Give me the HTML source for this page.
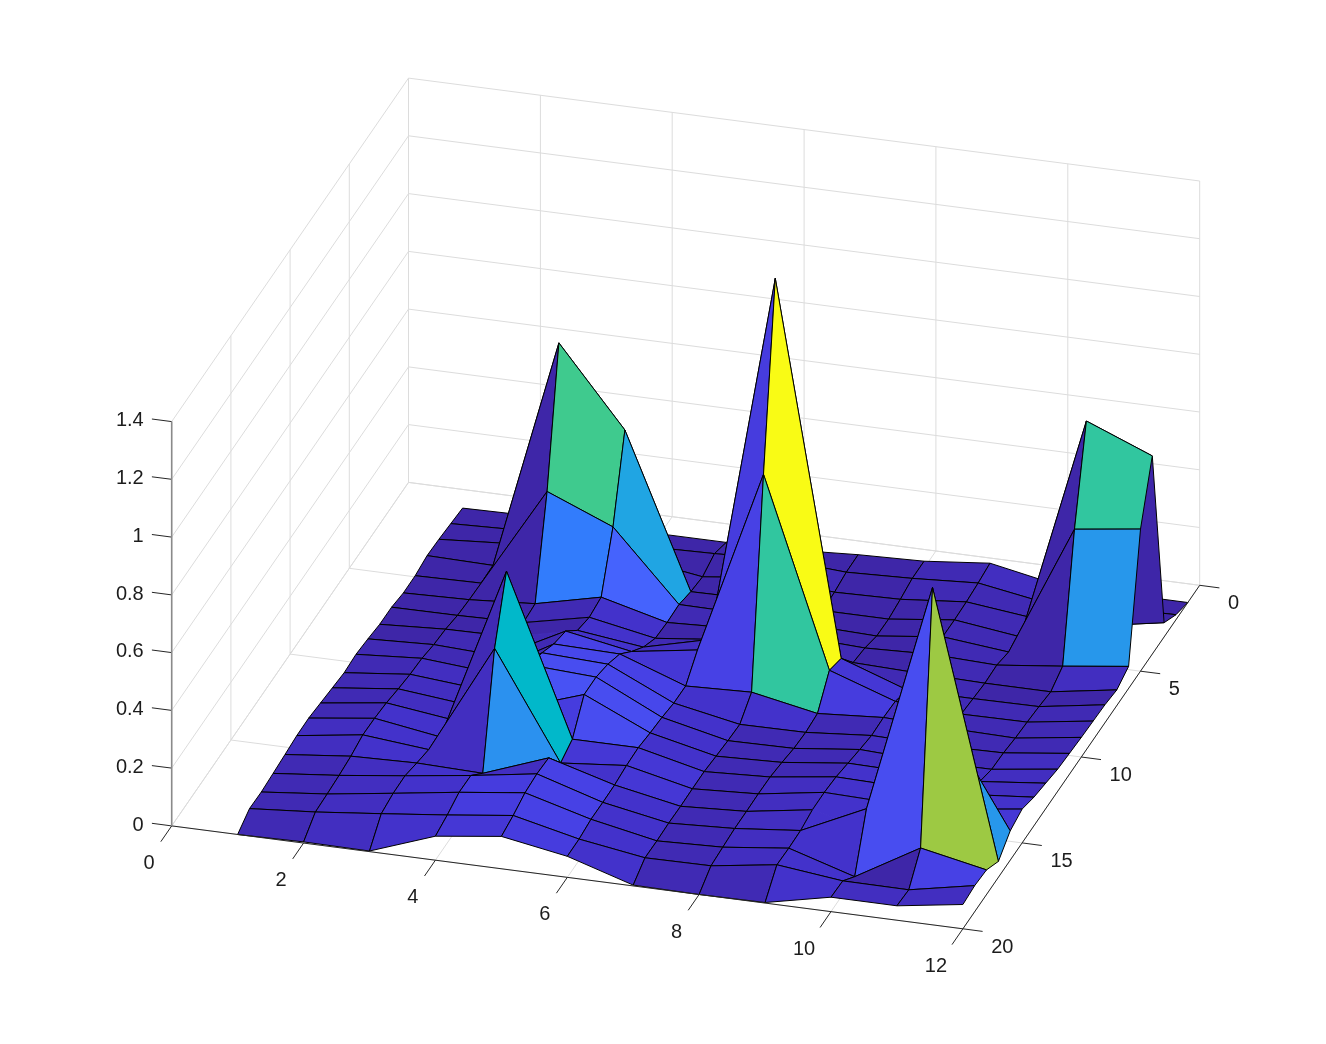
<!DOCTYPE html><html><head><meta charset="utf-8"><style>html,body{margin:0;padding:0;background:#fff;}svg{display:block}text{font-family:"Liberation Sans",sans-serif;font-size:20px;fill:#1c1c1c}</style></head><body>
<svg width="1326" height="1044" viewBox="0 0 1326 1044">
<rect width="1326" height="1044" fill="#fff"/>
<path d="M408.5 482.4L408.5 78.1M349.3 568.3L349.3 164M290.1 654.1L290.1 249.8M230.9 740L230.9 335.7M171.7 825.9L171.7 421.6M408.5 482.4L171.7 825.9M408.5 424.6L171.7 768.1M408.5 366.9L171.7 710.4M408.5 309.1L171.7 652.6M408.5 251.4L171.7 594.9M408.5 193.6L171.7 537.1M408.5 135.8L171.7 479.3M408.5 78.1L171.7 421.6M408.5 482.4L408.5 78.1M540.4 499.5L540.4 95.2M672.2 516.7L672.2 112.4M804.1 533.9L804.1 129.5M935.9 551L935.9 146.7M1067.8 568.1L1067.8 163.8M1199.7 585.3L1199.7 181M408.5 482.4L1199.7 585.3M408.5 424.6L1199.7 527.5M408.5 366.9L1199.7 469.8M408.5 309.1L1199.7 412M408.5 251.4L1199.7 354.3M408.5 193.6L1199.7 296.5M408.5 135.8L1199.7 238.7M408.5 78.1L1199.7 181M408.5 482.4L171.7 825.9M540.4 499.5L303.6 843M672.2 516.7L435.4 860.2M804.1 533.9L567.3 877.4M935.9 551L699.1 894.5M1067.8 568.1L831 911.6M1199.7 585.3L962.9 928.8M408.5 482.4L1199.7 585.3M349.3 568.3L1140.5 671.2M290.1 654.1L1081.3 757M230.9 740L1022.1 842.9M171.7 825.9L962.9 928.8" stroke="#dcdcdc" stroke-width="1" fill="none"/>
<polygon points="462.6,508.1 528.5,515.6 516.7,529.9 450.8,523.6" fill="#3e26a8" stroke="#000" stroke-width="1" stroke-linejoin="round"/>
<polygon points="528.5,515.6 594.4,523.9 582.6,539 516.7,529.9" fill="#3e26a8" stroke="#000" stroke-width="1" stroke-linejoin="round"/>
<polygon points="594.4,523.9 660.4,533.9 648.5,546.7 582.6,539" fill="#3e26a8" stroke="#000" stroke-width="1" stroke-linejoin="round"/>
<polygon points="450.8,523.6 516.7,529.9 504.8,543.3 438.9,539.3" fill="#3e26a8" stroke="#000" stroke-width="1" stroke-linejoin="round"/>
<polygon points="660.4,533.9 726.3,542.4 714.5,553.6 648.5,546.7" fill="#3e26a8" stroke="#000" stroke-width="1" stroke-linejoin="round"/>
<polygon points="516.7,529.9 582.6,539 570.8,553.9 504.8,543.3" fill="#3e26a8" stroke="#000" stroke-width="1" stroke-linejoin="round"/>
<polygon points="726.3,542.4 792.2,549.9 780.4,559.5 714.5,553.6" fill="#3e26a8" stroke="#000" stroke-width="1" stroke-linejoin="round"/>
<polygon points="582.6,539 648.5,546.7 636.7,558.4 570.8,553.9" fill="#3e26a8" stroke="#000" stroke-width="1" stroke-linejoin="round"/>
<polygon points="438.9,539.3 504.8,543.3 493,565.4 427.1,555.6" fill="#3e26a8" stroke="#000" stroke-width="1" stroke-linejoin="round"/>
<polygon points="792.2,549.9 858.2,554.7 846.3,572.2 780.4,559.5" fill="#3e26a8" stroke="#000" stroke-width="1" stroke-linejoin="round"/>
<polygon points="648.5,546.7 714.5,553.6 702.6,576.8 636.7,558.4" fill="#3e26a8" stroke="#000" stroke-width="1" stroke-linejoin="round"/>
<polygon points="504.8,543.3 570.8,553.9 558.9,342.9 493,565.4" fill="#402ab4" stroke="#000" stroke-width="1" stroke-linejoin="round"/>
<polygon points="858.2,554.7 924.1,561.2 912.3,578.4 846.3,572.2" fill="#3e26a8" stroke="#000" stroke-width="1" stroke-linejoin="round"/>
<polygon points="714.5,553.6 780.4,559.5 768.6,577.6 702.6,576.8" fill="#3e26a8" stroke="#000" stroke-width="1" stroke-linejoin="round"/>
<polygon points="570.8,553.9 636.7,558.4 624.9,430 558.9,342.9" fill="#3e26a8" stroke="#000" stroke-width="1" stroke-linejoin="round"/>
<polygon points="427.1,555.6 493,565.4 481.2,583.1 415.2,575.7" fill="#3e26a8" stroke="#000" stroke-width="1" stroke-linejoin="round"/>
<polygon points="924.1,561.2 990,563.2 978.2,583 912.3,578.4" fill="#402ab4" stroke="#000" stroke-width="1" stroke-linejoin="round"/>
<polygon points="780.4,559.5 846.3,572.2 834.5,592.2 768.6,577.6" fill="#402ab4" stroke="#000" stroke-width="1" stroke-linejoin="round"/>
<polygon points="636.7,558.4 702.6,576.8 690.8,591.7 624.9,430" fill="#402ab4" stroke="#000" stroke-width="1" stroke-linejoin="round"/>
<polygon points="493,565.4 558.9,342.9 547.1,491.5 481.2,583.1" fill="#3e26a8" stroke="#000" stroke-width="1" stroke-linejoin="round"/>
<polygon points="990,563.2 1056,584.5 1044.1,602.5 978.2,583" fill="#422ec0" stroke="#000" stroke-width="1" stroke-linejoin="round"/>
<polygon points="846.3,572.2 912.3,578.4 900.4,599.3 834.5,592.2" fill="#3e26a8" stroke="#000" stroke-width="1" stroke-linejoin="round"/>
<polygon points="702.6,576.8 768.6,577.6 756.7,599.4 690.8,591.7" fill="#3e26a8" stroke="#000" stroke-width="1" stroke-linejoin="round"/>
<polygon points="558.9,342.9 624.9,430 613,526.9 547.1,491.5" fill="#3fca8e" stroke="#000" stroke-width="1" stroke-linejoin="round"/>
<polygon points="415.2,575.7 481.2,583.1 469.3,599.7 403.4,592.9" fill="#3e26a8" stroke="#000" stroke-width="1" stroke-linejoin="round"/>
<polygon points="1056,584.5 1121.9,593.9 1110,607.3 1044.1,602.5" fill="#3e26a8" stroke="#000" stroke-width="1" stroke-linejoin="round"/>
<polygon points="912.3,578.4 978.2,583 966.4,601.9 900.4,599.3" fill="#402ab4" stroke="#000" stroke-width="1" stroke-linejoin="round"/>
<polygon points="768.6,577.6 834.5,592.2 822.6,610.5 756.7,599.4" fill="#402ab4" stroke="#000" stroke-width="1" stroke-linejoin="round"/>
<polygon points="624.9,430 690.8,591.7 679,604.5 613,526.9" fill="#20a5e3" stroke="#000" stroke-width="1" stroke-linejoin="round"/>
<polygon points="481.2,583.1 547.1,491.5 535.2,603.7 469.3,599.7" fill="#3e26a8" stroke="#000" stroke-width="1" stroke-linejoin="round"/>
<polygon points="1121.9,593.9 1187.8,602.5 1176,614.7 1110,607.3" fill="#3e26a8" stroke="#000" stroke-width="1" stroke-linejoin="round"/>
<polygon points="978.2,583 1044.1,602.5 1032.3,617.9 966.4,601.9" fill="#402ab4" stroke="#000" stroke-width="1" stroke-linejoin="round"/>
<polygon points="834.5,592.2 900.4,599.3 888.6,619.1 822.6,610.5" fill="#3e26a8" stroke="#000" stroke-width="1" stroke-linejoin="round"/>
<polygon points="690.8,591.7 756.7,599.4 744.9,613.7 679,604.5" fill="#3e26a8" stroke="#000" stroke-width="1" stroke-linejoin="round"/>
<polygon points="547.1,491.5 613,526.9 601.2,597.2 535.2,603.7" fill="#327cfc" stroke="#000" stroke-width="1" stroke-linejoin="round"/>
<polygon points="403.4,592.9 469.3,599.7 457.5,615.4 391.6,607.2" fill="#3e26a8" stroke="#000" stroke-width="1" stroke-linejoin="round"/>
<polygon points="1044.1,602.5 1110,607.3 1098.2,625.7 1032.3,617.9" fill="#3e26a8" stroke="#000" stroke-width="1" stroke-linejoin="round"/>
<polygon points="900.4,599.3 966.4,601.9 954.5,619.9 888.6,619.1" fill="#3e26a8" stroke="#000" stroke-width="1" stroke-linejoin="round"/>
<polygon points="756.7,599.4 822.6,610.5 810.8,625.4 744.9,613.7" fill="#3e26a8" stroke="#000" stroke-width="1" stroke-linejoin="round"/>
<polygon points="613,526.9 679,604.5 667.1,622.5 601.2,597.2" fill="#4563fd" stroke="#000" stroke-width="1" stroke-linejoin="round"/>
<polygon points="469.3,599.7 535.2,603.7 523.4,622.6 457.5,615.4" fill="#3e26a8" stroke="#000" stroke-width="1" stroke-linejoin="round"/>
<polygon points="1110,607.3 1176,614.7 1164.1,622.7 1098.2,625.7" fill="#3e26a8" stroke="#000" stroke-width="1" stroke-linejoin="round"/>
<polygon points="966.4,601.9 1032.3,617.9 1020.4,636.9 954.5,619.9" fill="#402ab4" stroke="#000" stroke-width="1" stroke-linejoin="round"/>
<polygon points="822.6,610.5 888.6,619.1 876.7,636 810.8,625.4" fill="#3e26a8" stroke="#000" stroke-width="1" stroke-linejoin="round"/>
<polygon points="679,604.5 744.9,613.7 733,628.2 667.1,622.5" fill="#402ab4" stroke="#000" stroke-width="1" stroke-linejoin="round"/>
<polygon points="535.2,603.7 601.2,597.2 589.3,617.3 523.4,622.6" fill="#402ab4" stroke="#000" stroke-width="1" stroke-linejoin="round"/>
<polygon points="391.6,607.2 457.5,615.4 445.6,629.2 379.7,624.3" fill="#3e26a8" stroke="#000" stroke-width="1" stroke-linejoin="round"/>
<polygon points="1032.3,617.9 1098.2,625.7 1086.4,421 1020.4,636.9" fill="#3e26a8" stroke="#000" stroke-width="1" stroke-linejoin="round"/>
<polygon points="888.6,619.1 954.5,619.9 942.7,636.8 876.7,636" fill="#3e26a8" stroke="#000" stroke-width="1" stroke-linejoin="round"/>
<polygon points="744.9,613.7 810.8,625.4 799,636.5 733,628.2" fill="#3e26a8" stroke="#000" stroke-width="1" stroke-linejoin="round"/>
<polygon points="601.2,597.2 667.1,622.5 655.3,638.3 589.3,617.3" fill="#4332cb" stroke="#000" stroke-width="1" stroke-linejoin="round"/>
<polygon points="457.5,615.4 523.4,622.6 511.6,636.9 445.6,629.2" fill="#3e26a8" stroke="#000" stroke-width="1" stroke-linejoin="round"/>
<polygon points="1098.2,625.7 1164.1,622.7 1152.3,455.9 1086.4,421" fill="#3e26a8" stroke="#000" stroke-width="1" stroke-linejoin="round"/>
<polygon points="954.5,619.9 1020.4,636.9 1008.6,652 942.7,636.8" fill="#402ab4" stroke="#000" stroke-width="1" stroke-linejoin="round"/>
<polygon points="810.8,625.4 876.7,636 864.9,648 799,636.5" fill="#3e26a8" stroke="#000" stroke-width="1" stroke-linejoin="round"/>
<polygon points="667.1,622.5 733,628.2 721.2,639.6 655.3,638.3" fill="#3e26a8" stroke="#000" stroke-width="1" stroke-linejoin="round"/>
<polygon points="523.4,622.6 589.3,617.3 577.5,630.4 511.6,636.9" fill="#3e26a8" stroke="#3e26a8" stroke-width="1"/>
<path d="M523.4 622.6L589.3 617.3M589.3 617.3L577.5 630.4M511.6 636.9L523.4 622.6" fill="none" stroke="#000" stroke-width="1" stroke-linecap="round"/>
<polygon points="379.7,624.3 445.6,629.2 433.8,644.6 367.9,638.9" fill="#3e26a8" stroke="#000" stroke-width="1" stroke-linejoin="round"/>
<polygon points="1020.4,636.9 1086.4,421 1074.5,529.2 1008.6,652" fill="#3e26a8" stroke="#000" stroke-width="1" stroke-linejoin="round"/>
<polygon points="876.7,636 942.7,636.8 930.8,654.2 864.9,648" fill="#3e26a8" stroke="#000" stroke-width="1" stroke-linejoin="round"/>
<polygon points="733,628.2 799,636.5 787.1,648.2 721.2,639.6" fill="#402ab4" stroke="#000" stroke-width="1" stroke-linejoin="round"/>
<polygon points="589.3,617.3 655.3,638.3 643.4,647.1 577.5,630.4" fill="#4332cb" stroke="#000" stroke-width="1" stroke-linejoin="round"/>
<polygon points="445.6,629.2 511.6,636.9 499.7,656.1 433.8,644.6" fill="#402ab4" stroke="#000" stroke-width="1" stroke-linejoin="round"/>
<polygon points="1086.4,421 1152.3,455.9 1140.5,529.1 1074.5,529.2" fill="#31c69f" stroke="#000" stroke-width="1" stroke-linejoin="round"/>
<polygon points="942.7,636.8 1008.6,652 996.8,665.1 930.8,654.2" fill="#402ab4" stroke="#000" stroke-width="1" stroke-linejoin="round"/>
<polygon points="799,636.5 864.9,648 853.1,662.6 787.1,648.2" fill="#402ab4" stroke="#000" stroke-width="1" stroke-linejoin="round"/>
<polygon points="655.3,638.3 721.2,639.6 709.4,639.5 643.4,647.1" fill="#402ab4" stroke="#000" stroke-width="1" stroke-linejoin="round"/>
<polygon points="511.6,636.9 577.5,630.4 565.7,631.1 499.7,656.1" fill="#402ab4" stroke="#402ab4" stroke-width="1"/>
<path d="M577.5 630.4L565.7 631.1M565.7 631.1L499.7 656.1M499.7 656.1L511.6 636.9" fill="none" stroke="#000" stroke-width="1" stroke-linecap="round"/>
<polygon points="367.9,638.9 433.8,644.6 422,658.3 356,654.3" fill="#402ab4" stroke="#000" stroke-width="1" stroke-linejoin="round"/>
<polygon points="1008.6,652 1074.5,529.2 1062.7,666.2 996.8,665.1" fill="#3e26a8" stroke="#000" stroke-width="1" stroke-linejoin="round"/>
<polygon points="864.9,648 930.8,654.2 919,673.2 853.1,662.6" fill="#3e26a8" stroke="#000" stroke-width="1" stroke-linejoin="round"/>
<polygon points="721.2,639.6 787.1,648.2 775.3,278.4 709.4,639.5" fill="#422ec0" stroke="#000" stroke-width="1" stroke-linejoin="round"/>
<polygon points="577.5,630.4 643.4,647.1 631.6,651.5 565.7,631.1" fill="#4332cb" stroke="#000" stroke-width="1" stroke-linejoin="round"/>
<polygon points="433.8,644.6 499.7,656.1 487.9,672.1 422,658.3" fill="#402ab4" stroke="#000" stroke-width="1" stroke-linejoin="round"/>
<polygon points="1074.5,529.2 1140.5,529.1 1128.6,666.4 1062.7,666.2" fill="#2797eb" stroke="#000" stroke-width="1" stroke-linejoin="round"/>
<polygon points="930.8,654.2 996.8,665.1 984.9,683.2 919,673.2" fill="#402ab4" stroke="#000" stroke-width="1" stroke-linejoin="round"/>
<polygon points="787.1,648.2 853.1,662.6 841.2,658.4 775.3,278.4" fill="#422ec0" stroke="#000" stroke-width="1" stroke-linejoin="round"/>
<polygon points="643.4,647.1 709.4,639.5 697.5,650 631.6,651.5" fill="#422ec0" stroke="#000" stroke-width="1" stroke-linejoin="round"/>
<polygon points="499.7,656.1 565.7,631.1 553.8,644 487.9,672.1" fill="#402ab4" stroke="#000" stroke-width="1" stroke-linejoin="round"/>
<polygon points="356,654.3 422,658.3 410.1,674.3 344.2,672.7" fill="#402ab4" stroke="#000" stroke-width="1" stroke-linejoin="round"/>
<polygon points="996.8,665.1 1062.7,666.2 1050.8,691.8 984.9,683.2" fill="#3e26a8" stroke="#000" stroke-width="1" stroke-linejoin="round"/>
<polygon points="853.1,662.6 919,673.2 907.2,690 841.2,658.4" fill="#402ab4" stroke="#000" stroke-width="1" stroke-linejoin="round"/>
<polygon points="709.4,639.5 775.3,278.4 763.5,474.3 697.5,650" fill="#463cde" stroke="#000" stroke-width="1" stroke-linejoin="round"/>
<polygon points="565.7,631.1 631.6,651.5 619.8,654 553.8,644" fill="#4741e5" stroke="#000" stroke-width="1" stroke-linejoin="round"/>
<polygon points="422,658.3 487.9,672.1 476,688.4 410.1,674.3" fill="#422ec0" stroke="#000" stroke-width="1" stroke-linejoin="round"/>
<polygon points="1062.7,666.2 1128.6,666.4 1116.8,689.9 1050.8,691.8" fill="#422ec0" stroke="#000" stroke-width="1" stroke-linejoin="round"/>
<polygon points="919,673.2 984.9,683.2 973.1,698.6 907.2,690" fill="#402ab4" stroke="#000" stroke-width="1" stroke-linejoin="round"/>
<polygon points="775.3,278.4 841.2,658.4 829.4,670.3 763.5,474.3" fill="#f9fb15" stroke="#000" stroke-width="1" stroke-linejoin="round"/>
<polygon points="631.6,651.5 697.5,650 685.7,686 619.8,654" fill="#4537d5" stroke="#000" stroke-width="1" stroke-linejoin="round"/>
<polygon points="487.9,672.1 553.8,644 542,652.8 476,688.4" fill="#402ab4" stroke="#000" stroke-width="1" stroke-linejoin="round"/>
<polygon points="344.2,672.7 410.1,674.3 398.3,688.9 332.4,687.8" fill="#402ab4" stroke="#000" stroke-width="1" stroke-linejoin="round"/>
<polygon points="984.9,683.2 1050.8,691.8 1039,706.6 973.1,698.6" fill="#3e26a8" stroke="#000" stroke-width="1" stroke-linejoin="round"/>
<polygon points="841.2,658.4 907.2,690 895.3,701.4 829.4,670.3" fill="#4537d5" stroke="#000" stroke-width="1" stroke-linejoin="round"/>
<polygon points="697.5,650 763.5,474.3 751.6,692.2 685.7,686" fill="#4741e5" stroke="#000" stroke-width="1" stroke-linejoin="round"/>
<polygon points="553.8,644 619.8,654 607.9,664.2 542,652.8" fill="#4747eb" stroke="#000" stroke-width="1" stroke-linejoin="round"/>
<polygon points="410.1,674.3 476,688.4 464.2,704.1 398.3,688.9" fill="#422ec0" stroke="#000" stroke-width="1" stroke-linejoin="round"/>
<polygon points="1050.8,691.8 1116.8,689.9 1104.9,704.8 1039,706.6" fill="#3e26a8" stroke="#000" stroke-width="1" stroke-linejoin="round"/>
<polygon points="907.2,690 973.1,698.6 961.2,714.1 895.3,701.4" fill="#402ab4" stroke="#000" stroke-width="1" stroke-linejoin="round"/>
<polygon points="763.5,474.3 829.4,670.3 817.5,713.5 751.6,692.2" fill="#31c69f" stroke="#000" stroke-width="1" stroke-linejoin="round"/>
<polygon points="619.8,654 685.7,686 673.8,703.1 607.9,664.2" fill="#4741e5" stroke="#000" stroke-width="1" stroke-linejoin="round"/>
<polygon points="476,688.4 542,652.8 530.1,665 464.2,704.1" fill="#402ab4" stroke="#000" stroke-width="1" stroke-linejoin="round"/>
<polygon points="332.4,687.8 398.3,688.9 386.4,702.9 320.5,703" fill="#402ab4" stroke="#000" stroke-width="1" stroke-linejoin="round"/>
<polygon points="973.1,698.6 1039,706.6 1027.2,722.1 961.2,714.1" fill="#402ab4" stroke="#000" stroke-width="1" stroke-linejoin="round"/>
<polygon points="829.4,670.3 895.3,701.4 883.5,717.5 817.5,713.5" fill="#463cde" stroke="#000" stroke-width="1" stroke-linejoin="round"/>
<polygon points="685.7,686 751.6,692.2 739.8,724.4 673.8,703.1" fill="#4332cb" stroke="#000" stroke-width="1" stroke-linejoin="round"/>
<polygon points="542,652.8 607.9,664.2 596.1,677.1 530.1,665" fill="#484df0" stroke="#000" stroke-width="1" stroke-linejoin="round"/>
<polygon points="398.3,688.9 464.2,704.1 452.4,719.8 386.4,702.9" fill="#422ec0" stroke="#000" stroke-width="1" stroke-linejoin="round"/>
<polygon points="1039,706.6 1104.9,704.8 1093.1,721.1 1027.2,722.1" fill="#402ab4" stroke="#000" stroke-width="1" stroke-linejoin="round"/>
<polygon points="895.3,701.4 961.2,714.1 949.4,728.3 883.5,717.5" fill="#422ec0" stroke="#000" stroke-width="1" stroke-linejoin="round"/>
<polygon points="751.6,692.2 817.5,713.5 805.7,732.4 739.8,724.4" fill="#4332cb" stroke="#000" stroke-width="1" stroke-linejoin="round"/>
<polygon points="607.9,664.2 673.8,703.1 662,717.4 596.1,677.1" fill="#4747eb" stroke="#000" stroke-width="1" stroke-linejoin="round"/>
<polygon points="464.2,704.1 530.1,665 518.3,707.9 452.4,719.8" fill="#402ab4" stroke="#000" stroke-width="1" stroke-linejoin="round"/>
<polygon points="320.5,703 386.4,702.9 374.6,718.3 308.7,718.1" fill="#402ab4" stroke="#000" stroke-width="1" stroke-linejoin="round"/>
<polygon points="961.2,714.1 1027.2,722.1 1015.3,738.1 949.4,728.3" fill="#402ab4" stroke="#000" stroke-width="1" stroke-linejoin="round"/>
<polygon points="817.5,713.5 883.5,717.5 871.6,735.5 805.7,732.4" fill="#402ab4" stroke="#000" stroke-width="1" stroke-linejoin="round"/>
<polygon points="673.8,703.1 739.8,724.4 727.9,740.7 662,717.4" fill="#4332cb" stroke="#000" stroke-width="1" stroke-linejoin="round"/>
<polygon points="530.1,665 596.1,677.1 584.2,694.5 518.3,707.9" fill="#4852f4" stroke="#000" stroke-width="1" stroke-linejoin="round"/>
<polygon points="386.4,702.9 452.4,719.8 440.5,737 374.6,718.3" fill="#4332cb" stroke="#000" stroke-width="1" stroke-linejoin="round"/>
<polygon points="1027.2,722.1 1093.1,721.1 1081.3,737.4 1015.3,738.1" fill="#402ab4" stroke="#000" stroke-width="1" stroke-linejoin="round"/>
<polygon points="883.5,717.5 949.4,728.3 937.6,745.5 871.6,735.5" fill="#422ec0" stroke="#000" stroke-width="1" stroke-linejoin="round"/>
<polygon points="739.8,724.4 805.7,732.4 793.9,748.4 727.9,740.7" fill="#402ab4" stroke="#000" stroke-width="1" stroke-linejoin="round"/>
<polygon points="596.1,677.1 662,717.4 650.2,732.9 584.2,694.5" fill="#484df0" stroke="#000" stroke-width="1" stroke-linejoin="round"/>
<polygon points="452.4,719.8 518.3,707.9 506.5,571.2 440.5,737" fill="#402ab4" stroke="#000" stroke-width="1" stroke-linejoin="round"/>
<polygon points="308.7,718.1 374.6,718.3 362.8,734.9 296.8,735.6" fill="#422ec0" stroke="#000" stroke-width="1" stroke-linejoin="round"/>
<polygon points="949.4,728.3 1015.3,738.1 1003.5,752.9 937.6,745.5" fill="#402ab4" stroke="#000" stroke-width="1" stroke-linejoin="round"/>
<polygon points="805.7,732.4 871.6,735.5 859.8,749.5 793.9,748.4" fill="#402ab4" stroke="#000" stroke-width="1" stroke-linejoin="round"/>
<polygon points="662,717.4 727.9,740.7 716.1,756.2 650.2,732.9" fill="#4332cb" stroke="#000" stroke-width="1" stroke-linejoin="round"/>
<polygon points="518.3,707.9 584.2,694.5 572.4,739.2 506.5,571.2" fill="#463cde" stroke="#000" stroke-width="1" stroke-linejoin="round"/>
<polygon points="374.6,718.3 440.5,737 428.7,749.6 362.8,734.9" fill="#4332cb" stroke="#000" stroke-width="1" stroke-linejoin="round"/>
<polygon points="1015.3,738.1 1081.3,737.4 1069.4,753.4 1003.5,752.9" fill="#402ab4" stroke="#000" stroke-width="1" stroke-linejoin="round"/>
<polygon points="871.6,735.5 937.6,745.5 925.7,761 859.8,749.5" fill="#422ec0" stroke="#000" stroke-width="1" stroke-linejoin="round"/>
<polygon points="727.9,740.7 793.9,748.4 782,762.4 716.1,756.2" fill="#402ab4" stroke="#000" stroke-width="1" stroke-linejoin="round"/>
<polygon points="584.2,694.5 650.2,732.9 638.3,747.7 572.4,739.2" fill="#484df0" stroke="#000" stroke-width="1" stroke-linejoin="round"/>
<polygon points="440.5,737 506.5,571.2 494.6,648.4 428.7,749.6" fill="#402ab4" stroke="#000" stroke-width="1" stroke-linejoin="round"/>
<polygon points="296.8,735.6 362.8,734.9 350.9,756.2 285,754.5" fill="#422ec0" stroke="#000" stroke-width="1" stroke-linejoin="round"/>
<polygon points="937.6,745.5 1003.5,752.9 991.7,769.3 925.7,761" fill="#402ab4" stroke="#000" stroke-width="1" stroke-linejoin="round"/>
<polygon points="793.9,748.4 859.8,749.5 848,763.2 782,762.4" fill="#402ab4" stroke="#000" stroke-width="1" stroke-linejoin="round"/>
<polygon points="650.2,732.9 716.1,756.2 704.2,771.6 638.3,747.7" fill="#4332cb" stroke="#000" stroke-width="1" stroke-linejoin="round"/>
<polygon points="506.5,571.2 572.4,739.2 560.6,763 494.6,648.4" fill="#01b8ca" stroke="#000" stroke-width="1" stroke-linejoin="round"/>
<polygon points="362.8,734.9 428.7,749.6 416.8,763 350.9,756.2" fill="#4332cb" stroke="#000" stroke-width="1" stroke-linejoin="round"/>
<polygon points="1003.5,752.9 1069.4,753.4 1057.6,769.2 991.7,769.3" fill="#422ec0" stroke="#000" stroke-width="1" stroke-linejoin="round"/>
<polygon points="859.8,749.5 925.7,761 913.9,772.9 848,763.2" fill="#422ec0" stroke="#000" stroke-width="1" stroke-linejoin="round"/>
<polygon points="716.1,756.2 782,762.4 770.2,777 704.2,771.6" fill="#402ab4" stroke="#000" stroke-width="1" stroke-linejoin="round"/>
<polygon points="572.4,739.2 638.3,747.7 626.5,765.5 560.6,763" fill="#4537d5" stroke="#000" stroke-width="1" stroke-linejoin="round"/>
<polygon points="428.7,749.6 494.6,648.4 482.8,773.3 416.8,763" fill="#422ec0" stroke="#000" stroke-width="1" stroke-linejoin="round"/>
<polygon points="285,754.5 350.9,756.2 339.1,775.4 273.1,773.4" fill="#402ab4" stroke="#000" stroke-width="1" stroke-linejoin="round"/>
<polygon points="925.7,761 991.7,769.3 979.8,781.5 913.9,772.9" fill="#422ec0" stroke="#000" stroke-width="1" stroke-linejoin="round"/>
<polygon points="782,762.4 848,763.2 836.1,776.9 770.2,777" fill="#402ab4" stroke="#000" stroke-width="1" stroke-linejoin="round"/>
<polygon points="638.3,747.7 704.2,771.6 692.4,788.8 626.5,765.5" fill="#4537d5" stroke="#000" stroke-width="1" stroke-linejoin="round"/>
<polygon points="494.6,648.4 560.6,763 548.7,757.9 482.8,773.3" fill="#2b91ef" stroke="#000" stroke-width="1" stroke-linejoin="round"/>
<polygon points="350.9,756.2 416.8,763 405,775.8 339.1,775.4" fill="#422ec0" stroke="#000" stroke-width="1" stroke-linejoin="round"/>
<polygon points="991.7,769.3 1057.6,769.2 1045.7,783.2 979.8,781.5" fill="#422ec0" stroke="#000" stroke-width="1" stroke-linejoin="round"/>
<polygon points="848,763.2 913.9,772.9 902,786.9 836.1,776.9" fill="#4332cb" stroke="#000" stroke-width="1" stroke-linejoin="round"/>
<polygon points="704.2,771.6 770.2,777 758.3,793.9 692.4,788.8" fill="#402ab4" stroke="#000" stroke-width="1" stroke-linejoin="round"/>
<polygon points="560.6,763 626.5,765.5 614.6,785 548.7,757.9" fill="#4332cb" stroke="#000" stroke-width="1" stroke-linejoin="round"/>
<polygon points="416.8,763 482.8,773.3 470.9,775.5 405,775.8" fill="#4332cb" stroke="#000" stroke-width="1" stroke-linejoin="round"/>
<polygon points="273.1,773.4 339.1,775.4 327.2,794 261.3,792" fill="#402ab4" stroke="#000" stroke-width="1" stroke-linejoin="round"/>
<polygon points="913.9,772.9 979.8,781.5 968,794.4 902,786.9" fill="#422ec0" stroke="#000" stroke-width="1" stroke-linejoin="round"/>
<polygon points="770.2,777 836.1,776.9 824.3,792.4 758.3,793.9" fill="#422ec0" stroke="#000" stroke-width="1" stroke-linejoin="round"/>
<polygon points="626.5,765.5 692.4,788.8 680.6,806.3 614.6,785" fill="#4537d5" stroke="#000" stroke-width="1" stroke-linejoin="round"/>
<polygon points="482.8,773.3 548.7,757.9 536.9,773.9 470.9,775.5" fill="#422ec0" stroke="#000" stroke-width="1" stroke-linejoin="round"/>
<polygon points="339.1,775.4 405,775.8 393.2,793.3 327.2,794" fill="#422ec0" stroke="#000" stroke-width="1" stroke-linejoin="round"/>
<polygon points="979.8,781.5 1045.7,783.2 1033.9,797.2 968,794.4" fill="#422ec0" stroke="#000" stroke-width="1" stroke-linejoin="round"/>
<polygon points="836.1,776.9 902,786.9 890.2,802.7 824.3,792.4" fill="#4332cb" stroke="#000" stroke-width="1" stroke-linejoin="round"/>
<polygon points="692.4,788.8 758.3,793.9 746.5,811.4 680.6,806.3" fill="#402ab4" stroke="#000" stroke-width="1" stroke-linejoin="round"/>
<polygon points="548.7,757.9 614.6,785 602.8,802.4 536.9,773.9" fill="#4741e5" stroke="#000" stroke-width="1" stroke-linejoin="round"/>
<polygon points="405,775.8 470.9,775.5 459.1,792.3 393.2,793.3" fill="#4332cb" stroke="#000" stroke-width="1" stroke-linejoin="round"/>
<polygon points="261.3,792 327.2,794 315.4,812 249.5,808.6" fill="#402ab4" stroke="#000" stroke-width="1" stroke-linejoin="round"/>
<polygon points="902,786.9 968,794.4 956.1,809.2 890.2,802.7" fill="#4332cb" stroke="#000" stroke-width="1" stroke-linejoin="round"/>
<polygon points="758.3,793.9 824.3,792.4 812.4,809.8 746.5,811.4" fill="#422ec0" stroke="#000" stroke-width="1" stroke-linejoin="round"/>
<polygon points="614.6,785 680.6,806.3 668.7,823.1 602.8,802.4" fill="#4332cb" stroke="#000" stroke-width="1" stroke-linejoin="round"/>
<polygon points="470.9,775.5 536.9,773.9 525,792.8 459.1,792.3" fill="#463cde" stroke="#000" stroke-width="1" stroke-linejoin="round"/>
<polygon points="327.2,794 393.2,793.3 381.3,813.7 315.4,812" fill="#422ec0" stroke="#000" stroke-width="1" stroke-linejoin="round"/>
<polygon points="968,794.4 1033.9,797.2 1022.1,809.1 956.1,809.2" fill="#4332cb" stroke="#000" stroke-width="1" stroke-linejoin="round"/>
<polygon points="824.3,792.4 890.2,802.7 878.4,834.3 812.4,809.8" fill="#4332cb" stroke="#4332cb" stroke-width="1"/>
<path d="M824.3 792.4L890.2 802.7M890.2 802.7L878.4 834.3M812.4 809.8L824.3 792.4" fill="none" stroke="#000" stroke-width="1" stroke-linecap="round"/>
<polygon points="680.6,806.3 746.5,811.4 734.7,828.5 668.7,823.1" fill="#402ab4" stroke="#000" stroke-width="1" stroke-linejoin="round"/>
<polygon points="536.9,773.9 602.8,802.4 591,819.3 525,792.8" fill="#4741e5" stroke="#000" stroke-width="1" stroke-linejoin="round"/>
<polygon points="393.2,793.3 459.1,792.3 447.3,815 381.3,813.7" fill="#4332cb" stroke="#000" stroke-width="1" stroke-linejoin="round"/>
<polygon points="249.5,808.6 315.4,812 303.6,841.9 237.6,834.5" fill="#402ab4" stroke="#000" stroke-width="1" stroke-linejoin="round"/>
<polygon points="890.2,802.7 956.1,809.2 944.3,718.7 878.4,834.3" fill="#4332cb" stroke="#000" stroke-width="1" stroke-linejoin="round"/>
<polygon points="746.5,811.4 812.4,809.8 800.6,830.5 734.7,828.5" fill="#422ec0" stroke="#000" stroke-width="1" stroke-linejoin="round"/>
<polygon points="602.8,802.4 668.7,823.1 656.9,840.9 591,819.3" fill="#4332cb" stroke="#000" stroke-width="1" stroke-linejoin="round"/>
<polygon points="459.1,792.3 525,792.8 513.2,815.5 447.3,815" fill="#463cde" stroke="#000" stroke-width="1" stroke-linejoin="round"/>
<polygon points="315.4,812 381.3,813.7 369.5,851 303.6,841.9" fill="#422ec0" stroke="#000" stroke-width="1" stroke-linejoin="round"/>
<polygon points="956.1,809.2 1022.1,809.1 1010.2,830.9 944.3,718.7" fill="#4537d5" stroke="#000" stroke-width="1" stroke-linejoin="round"/>
<polygon points="812.4,809.8 878.4,834.3 866.5,808.7 800.6,830.5" fill="#4332cb" stroke="#4332cb" stroke-width="1"/>
<path d="M878.4 834.3L866.5 808.7M866.5 808.7L800.6 830.5M800.6 830.5L812.4 809.8" fill="none" stroke="#000" stroke-width="1" stroke-linecap="round"/>
<polygon points="668.7,823.1 734.7,828.5 722.8,847.2 656.9,840.9" fill="#402ab4" stroke="#000" stroke-width="1" stroke-linejoin="round"/>
<polygon points="525,792.8 591,819.3 579.1,839.1 513.2,815.5" fill="#4741e5" stroke="#000" stroke-width="1" stroke-linejoin="round"/>
<polygon points="381.3,813.7 447.3,815 435.4,836.2 369.5,851" fill="#4332cb" stroke="#000" stroke-width="1" stroke-linejoin="round"/>
<polygon points="878.4,834.3 944.3,718.7 932.5,587.4 866.5,808.7" fill="#402ab4" stroke="#000" stroke-width="1" stroke-linejoin="round"/>
<polygon points="734.7,828.5 800.6,830.5 788.8,848.2 722.8,847.2" fill="#422ec0" stroke="#000" stroke-width="1" stroke-linejoin="round"/>
<polygon points="591,819.3 656.9,840.9 645,857.8 579.1,839.1" fill="#4332cb" stroke="#000" stroke-width="1" stroke-linejoin="round"/>
<polygon points="447.3,815 513.2,815.5 501.4,836.4 435.4,836.2" fill="#4537d5" stroke="#000" stroke-width="1" stroke-linejoin="round"/>
<polygon points="944.3,718.7 1010.2,830.9 998.4,861.4 932.5,587.4" fill="#2797eb" stroke="#000" stroke-width="1" stroke-linejoin="round"/>
<polygon points="800.6,830.5 866.5,808.7 854.7,876.7 788.8,848.2" fill="#4332cb" stroke="#000" stroke-width="1" stroke-linejoin="round"/>
<polygon points="656.9,840.9 722.8,847.2 711,865.8 645,857.8" fill="#402ab4" stroke="#000" stroke-width="1" stroke-linejoin="round"/>
<polygon points="513.2,815.5 579.1,839.1 567.3,856.3 501.4,836.4" fill="#463cde" stroke="#000" stroke-width="1" stroke-linejoin="round"/>
<polygon points="866.5,808.7 932.5,587.4 920.6,848 854.7,876.7" fill="#484df0" stroke="#000" stroke-width="1" stroke-linejoin="round"/>
<polygon points="722.8,847.2 788.8,848.2 776.9,864.8 711,865.8" fill="#422ec0" stroke="#000" stroke-width="1" stroke-linejoin="round"/>
<polygon points="579.1,839.1 645,857.8 633.2,885.1 567.3,856.3" fill="#4332cb" stroke="#000" stroke-width="1" stroke-linejoin="round"/>
<polygon points="932.5,587.4 998.4,861.4 986.5,869.9 920.6,848" fill="#9dc943" stroke="#000" stroke-width="1" stroke-linejoin="round"/>
<polygon points="788.8,848.2 854.7,876.7 842.8,880.9 776.9,864.8" fill="#4332cb" stroke="#000" stroke-width="1" stroke-linejoin="round"/>
<polygon points="645,857.8 711,865.8 699.1,894.5 633.2,885.1" fill="#402ab4" stroke="#000" stroke-width="1" stroke-linejoin="round"/>
<polygon points="854.7,876.7 920.6,848 908.8,889.8 842.8,880.9" fill="#3e26a8" stroke="#000" stroke-width="1" stroke-linejoin="round"/>
<polygon points="711,865.8 776.9,864.8 765.1,902.5 699.1,894.5" fill="#402ab4" stroke="#000" stroke-width="1" stroke-linejoin="round"/>
<polygon points="920.6,848 986.5,869.9 974.7,885.6 908.8,889.8" fill="#4741e5" stroke="#000" stroke-width="1" stroke-linejoin="round"/>
<polygon points="776.9,864.8 842.8,880.9 831,897.2 765.1,902.5" fill="#4332cb" stroke="#000" stroke-width="1" stroke-linejoin="round"/>
<polygon points="842.8,880.9 908.8,889.8 896.9,905.8 831,897.2" fill="#422ec0" stroke="#000" stroke-width="1" stroke-linejoin="round"/>
<polygon points="908.8,889.8 974.7,885.6 962.9,904.5 896.9,905.8" fill="#422ec0" stroke="#000" stroke-width="1" stroke-linejoin="round"/>
<path d="M171.7 825.9L962.9 928.8M1199.7 585.3L962.9 928.8M171.7 825.9L160.8 841.7M303.6 843L292.7 858.9M435.4 860.2L424.5 876M567.3 877.4L556.4 893.2M699.1 894.5L688.2 910.3M831 911.6L820.1 927.5M962.9 928.8L952 944.6M1199.7 585.3L1219.4 587.9M1140.5 671.2L1160.2 673.7M1081.3 757L1101 759.6M1022.1 842.9L1041.8 845.5M962.9 928.8L982.6 931.4M171.7 825.9L151.9 823.3M171.7 768.1L151.9 765.6M171.7 710.4L151.9 707.8M171.7 652.6L151.9 650M171.7 594.9L151.9 592.3M171.7 537.1L151.9 534.5M171.7 479.3L151.9 476.8M171.7 421.6L151.9 419" stroke="#262626" stroke-width="1" fill="none"/>
<path d="M171.7 825.9L171.7 421.6" stroke="#8a8a8a" stroke-width="1.6" fill="none"/>
<g style="will-change:transform"><text x="143.7" y="830.5" text-anchor="end">0</text><text x="143.7" y="772.7" text-anchor="end">0.2</text><text x="143.7" y="715" text-anchor="end">0.4</text><text x="143.7" y="657.2" text-anchor="end">0.6</text><text x="143.7" y="599.5" text-anchor="end">0.8</text><text x="143.7" y="541.7" text-anchor="end">1</text><text x="143.7" y="483.9" text-anchor="end">1.2</text><text x="143.7" y="426.2" text-anchor="end">1.4</text><text x="154.7" y="868.9" text-anchor="end">0</text><text x="286.6" y="886" text-anchor="end">2</text><text x="418.4" y="903.2" text-anchor="end">4</text><text x="550.3" y="920.4" text-anchor="end">6</text><text x="682.1" y="937.5" text-anchor="end">8</text><text x="815.2" y="954.6" text-anchor="end">10</text><text x="947.1" y="971.8" text-anchor="end">12</text><text x="1228" y="609.1" text-anchor="start">0</text><text x="1168.8" y="695" text-anchor="start">5</text><text x="1109.6" y="780.8" text-anchor="start">10</text><text x="1050.4" y="866.7" text-anchor="start">15</text><text x="991.2" y="952.6" text-anchor="start">20</text></g>
</svg></body></html>
